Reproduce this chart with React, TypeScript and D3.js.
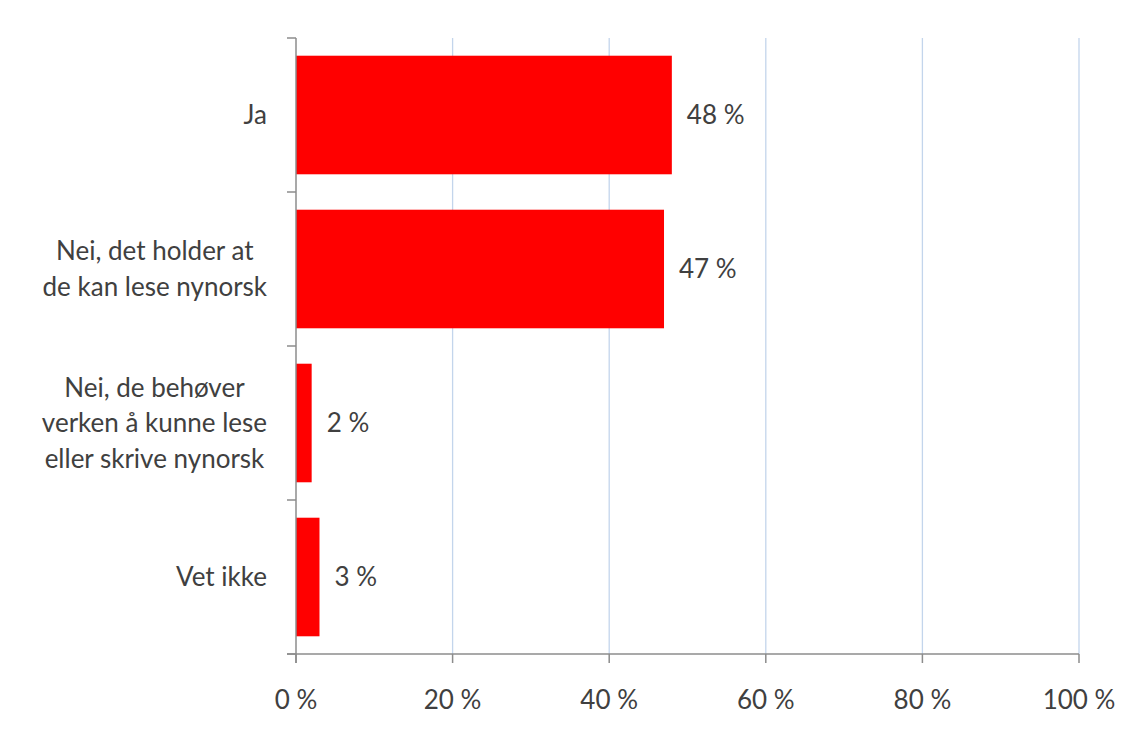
import React, { useRef, useEffect, useCallback } from 'react';
import * as d3 from 'd3';

const categories = [
  'Ja',
  'Nei, det holder at\nde kan lese nynorsk',
  'Nei, de behøver\nverken å kunne lese\neller skrive nynorsk',
  'Vet ikke',
];
const values = [48, 47, 2, 3];
const xTicks = [0, 20, 40, 60, 80, 100];

const width = 1131;
const height = 733;
const margin = { top: 38, right: 52, bottom: 79, left: 296 };
const fontFamily = 'Lato, "Open Sans", sans-serif';
const fontSize = 26;
const textColor = '#404040';
const axisColor = '#8c8c8c';
const gridColor = '#c3d5ec';

const App: React.FC = () => {
  const chartRef = useRef<SVGSVGElement | null>(null);

  const draw = useCallback(() => {
    const svg = d3.select(chartRef.current);
    svg.selectAll('*').remove();

    const x = d3
      .scaleLinear()
      .domain([0, 100])
      .range([margin.left, width - margin.right]);

    const y = d3
      .scaleBand()
      .domain(categories)
      .range([margin.top, height - margin.bottom])
      .paddingInner(0.23)
      .paddingOuter(0.115);

    const bottom = height - margin.bottom;
    const step = y.step();

    svg.append('rect').attr('width', width).attr('height', height).attr('fill', '#fff');

    // gridlines
    svg
      .append('g')
      .selectAll('line')
      .data(xTicks.filter((t) => t > 0))
      .join('line')
      .attr('x1', (d) => x(d))
      .attr('x2', (d) => x(d))
      .attr('y1', margin.top)
      .attr('y2', bottom)
      .attr('stroke', gridColor)
      .attr('stroke-width', 1.3);

    // bars
    svg
      .append('g')
      .attr('fill', '#ff0000')
      .selectAll('rect')
      .data(values)
      .join('rect')
      .attr('x', x(0))
      .attr('y', (d, i) => y(categories[i]) ?? 0)
      .attr('width', (d) => x(d) - x(0))
      .attr('height', y.bandwidth());

    // value labels
    svg
      .append('g')
      .selectAll('text')
      .data(values)
      .join('text')
      .attr('x', (d) => x(d) + 15)
      .attr('y', (d, i) => (y(categories[i]) ?? 0) + y.bandwidth() / 2 + fontSize * 0.35)
      .attr('fill', textColor)
      .attr('font-family', fontFamily)
      .attr('font-size', fontSize)
      .text((d) => `${d} %`);

    // x axis
    const xAxis = svg.append('g').attr('stroke', axisColor).attr('stroke-width', 1.5);
    xAxis
      .append('line')
      .attr('x1', x(0) - 9)
      .attr('x2', x(100))
      .attr('y1', bottom)
      .attr('y2', bottom);
    xAxis
      .selectAll('line.tick')
      .data(xTicks)
      .join('line')
      .attr('class', 'tick')
      .attr('x1', (d) => x(d))
      .attr('x2', (d) => x(d))
      .attr('y1', bottom)
      .attr('y2', bottom + 9);

    svg
      .append('g')
      .selectAll('text')
      .data(xTicks)
      .join('text')
      .attr('x', (d) => x(d))
      .attr('y', bottom + 55)
      .attr('text-anchor', 'middle')
      .attr('fill', textColor)
      .attr('font-family', fontFamily)
      .attr('font-size', fontSize)
      .text((d) => `${d} %`);

    // y axis
    const yAxis = svg.append('g').attr('stroke', axisColor).attr('stroke-width', 1.5);
    yAxis
      .append('line')
      .attr('x1', x(0))
      .attr('x2', x(0))
      .attr('y1', margin.top)
      .attr('y2', bottom + 9);
    yAxis
      .selectAll('line.tick')
      .data(d3.range(categories.length + 1))
      .join('line')
      .attr('class', 'tick')
      .attr('x1', x(0) - 9)
      .attr('x2', x(0))
      .attr('y1', (i) => margin.top + i * step)
      .attr('y2', (i) => margin.top + i * step);

    // category labels: lines centred within a block whose right edge is fixed
    const lineHeight = 35.5;
    const labelRight = 267;
    categories.forEach((cat, i) => {
      const lines = cat.split('\n');
      const cy = (y(cat) ?? 0) + y.bandwidth() / 2;
      const g = svg.append('g');
      const texts = g
        .selectAll('text')
        .data(lines)
        .join('text')
        .attr('x', 0)
        .attr('y', (d, j) => cy + (j - (lines.length - 1) / 2) * lineHeight + fontSize * 0.35)
        .attr('text-anchor', 'middle')
        .attr('fill', textColor)
        .attr('font-family', fontFamily)
        .attr('font-size', fontSize)
        .text((d) => d);
      let maxW = 0;
      texts.each(function () {
        maxW = Math.max(maxW, (this as SVGTextElement).getComputedTextLength());
      });
      g.attr('transform', `translate(${labelRight - maxW / 2},0)`);
    });
  }, []);

  useEffect(() => {
    draw();
  }, [draw]);

  return (
    <svg
      ref={chartRef}
      width={width}
      height={height}
      style={{ position: 'absolute', left: 0, top: 0, display: 'block' }}
    />
  );
};

export default App;
